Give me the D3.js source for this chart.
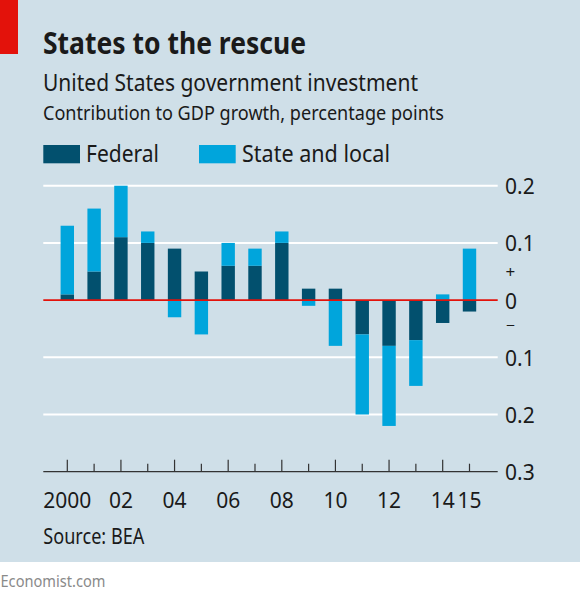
<!DOCTYPE html>
<html>
<head>
<meta charset="utf-8">
<script src="https://cdn.jsdelivr.net/npm/d3@7"></script>
<style>
  html, body { margin: 0; padding: 0; background: #ffffff; }
  svg { display: block; }
  text { font-family: "Noto Sans", "Open Sans", sans-serif; }
</style>
</head>
<body>
<div id="chart"></div>
<script>
// ---- data ----
const years = ["2000","2001","2002","2003","2004","2005","2006","2007","2008","2009","2010","2011","2012","2013","2014","2015"];
const federal = [0.01, 0.05, 0.11, 0.10, 0.09, 0.05, 0.06, 0.06, 0.10, 0.02, 0.02, -0.06, -0.08, -0.07, -0.04, -0.02];
const stateLocal = [0.12, 0.11, 0.09, 0.02, -0.03, -0.06, 0.04, 0.03, 0.02, -0.01, -0.08, -0.14, -0.14, -0.08, 0.01, 0.09];
const seriesNames = ["Federal", "State and local"];
const yTicks = [0.2, 0.1, 0, -0.1, -0.2, -0.3];
const yTickLabels = ["0.2", "0.1", "0", "0.1", "0.2", "0.3"];
const xLabelYears = ["2000","2002","2004","2006","2008","2010","2012","2014","2015"];
const xLabels = ["2000","02","04","06","08","10","12","14","15"];

// ---- styling ----
const W = 580, H = 598;
const bg = "#cfdfe8";
const colFed = "#02506e";
const colState = "#00a5dc";
const red = "#e3120b";

const svg = d3.select("#chart").append("svg")
  .attr("width", W).attr("height", H);

svg.append("rect").attr("x", 0).attr("y", 0).attr("width", W).attr("height", 562).attr("fill", bg);
svg.append("rect").attr("x", 0).attr("y", 0).attr("width", 18).attr("height", 54).attr("fill", red);

// header texts
function fitText(sel, w) { return sel.attr("textLength", w).attr("lengthAdjust", "spacingAndGlyphs"); }
fitText(svg.append("text").attr("x", 43).attr("y", 54).attr("font-size", 31).attr("font-weight", 700)
  .attr("fill", "#1a1a1a").text("States to the rescue"), 263);
fitText(svg.append("text").attr("x", 43).attr("y", 90.5).attr("font-size", 23)
  .attr("fill", "#1a1a1a").text("United States government investment"), 375);
fitText(svg.append("text").attr("x", 43).attr("y", 120).attr("font-size", 19.5)
  .attr("fill", "#1a1a1a").text("Contribution to GDP growth, percentage points"), 401);

// legend
const legendX = [43.3, 199];
const legendTextX = [86, 242];
const legendTextW = [73, 148];
[colFed, colState].forEach((c, i) => {
  svg.append("rect").attr("x", legendX[i]).attr("y", 145).attr("width", 36.7).attr("height", 18.3).attr("fill", c);
  fitText(svg.append("text").attr("x", legendTextX[i]).attr("y", 162.3).attr("font-size", 23)
    .attr("fill", "#1a1a1a").text(seriesNames[i]), legendTextW[i]);
});

// scales
const y = d3.scaleLinear().domain([-0.3, 0.2]).range([471.7, 185.7]);
const x = d3.scaleBand().domain(years).range([53.9, 482.9]).paddingInner(0.5).paddingOuter(0.25);
const axisX0 = 43.3, axisX1 = 497.7;

// gridlines
const grid = svg.append("g");
yTicks.filter(t => t !== 0 && t !== -0.3).forEach(t => {
  grid.append("line").attr("x1", axisX0).attr("x2", axisX1)
    .attr("y1", y(t)).attr("y2", y(t)).attr("stroke", "#ffffff").attr("stroke-width", 2);
});

// stacked bars
const table = years.map((yr, i) => ({ year: yr, Federal: federal[i], "State and local": stateLocal[i] }));
const stack = d3.stack().keys(seriesNames).offset(d3.stackOffsetDiverging);
const stacked = stack(table);
const colors = [colFed, colState];
stacked.forEach((s, si) => {
  svg.append("g").selectAll("rect").data(s).join("rect")
    .attr("x", d => x(d.data.year))
    .attr("width", x.bandwidth())
    .attr("y", d => y(Math.max(d[0], d[1])))
    .attr("height", d => Math.abs(y(d[0]) - y(d[1])))
    .attr("fill", colors[si]);
});

// zero line
svg.append("line").attr("x1", axisX0).attr("x2", axisX1)
  .attr("y1", y(0)).attr("y2", y(0)).attr("stroke", red).attr("stroke-width", 1.6);

// bottom axis
const axisY = y(-0.3);
svg.append("line").attr("x1", axisX0).attr("x2", axisX1)
  .attr("y1", axisY).attr("y2", axisY).attr("stroke", "#333333").attr("stroke-width", 1.2);
svg.selectAll(".xtick").data(years).join("line")
  .attr("x1", d => x(d) + x.bandwidth() / 2).attr("x2", d => x(d) + x.bandwidth() / 2)
  .attr("y1", d => axisY - ((+d % 2 === 0) ? 12 : 8)).attr("y2", axisY)
  .attr("stroke", "#333333").attr("stroke-width", 1.2);

svg.selectAll(".xlab").data(xLabelYears).join("text")
  .attr("x", d => x(d) + x.bandwidth() / 2)
  .attr("y", 507.5)
  .attr("text-anchor", "middle")
  .attr("font-size", 21)
  .attr("fill", "#1a1a1a")
  .text((d, i) => xLabels[i]);

// y labels (right)
svg.selectAll(".ylab").data(yTicks).join("text")
  .attr("x", 505)
  .attr("y", d => y(d) + 8.5)
  .attr("font-size", 21)
  .attr("fill", "#1a1a1a")
  .text((d, i) => yTickLabels[i]);
svg.append("text").attr("x", 505.5).attr("y", 278).attr("font-size", 17).attr("fill", "#1a1a1a").text("+");
fitText(svg.append("text").attr("x", 506).attr("y", 328.5).attr("font-size", 12).attr("fill", "#1a1a1a").text("–"), 9);

// source
fitText(svg.append("text").attr("x", 43.3).attr("y", 544).attr("font-size", 21)
  .attr("fill", "#1a1a1a").text("Source: BEA"), 101);
fitText(svg.append("text").attr("x", 0.5).attr("y", 587).attr("font-size", 16)
  .attr("fill", "#8a8a8a").text("Economist.com"), 105);
</script>
</body>
</html>
